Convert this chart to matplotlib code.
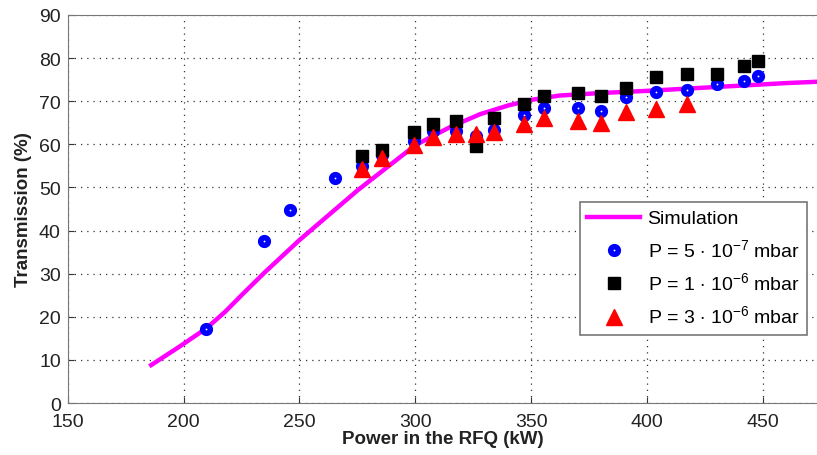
import matplotlib.pyplot as plt
import numpy as np

plt.rcParams['font.family'] = ['Liberation Sans', 'DejaVu Sans']
plt.rcParams['mathtext.fontset'] = 'custom'
plt.rcParams['mathtext.rm'] = 'Liberation Sans'

# simulation curve
sim_p = [186, 198, 210, 218, 225, 235, 250, 275, 300, 315, 328, 340, 350, 362, 380, 400, 420, 440, 460, 473]
sim_t = [8.8, 13.0, 17.4, 21.2, 25.0, 30.3, 37.8, 49.3, 59.8, 64.0, 67.0, 69.0, 70.3, 71.3, 71.9, 72.4, 73.0, 73.6, 74.2, 74.5]

# P = 5e-7 mbar
p1 = [209.5, 234.8, 245.9, 265.2, 276.8, 285.5, 299.5, 307.7, 317.6, 326.0, 334.0, 347.0,
      355.6, 370.0, 380.1, 390.9, 403.8, 417.0, 430.0, 441.9, 447.9]
t1 = [17.2, 37.6, 44.8, 52.3, 55.0, 57.5, 60.7, 63.2, 63.2, 62.0, 63.4, 66.7,
      68.4, 68.4, 67.8, 70.9, 72.2, 72.7, 74.0, 74.6, 75.9]

# P = 1e-6 mbar
p2 = [276.8, 285.6, 299.5, 307.7, 317.6, 326.0, 334.0, 346.9, 355.6, 370.0, 380.1, 390.9,
      403.8, 417.0, 430.0, 441.9, 447.9]
t2 = [57.4, 58.6, 62.9, 64.8, 65.5, 59.7, 66.1, 69.4, 71.2, 71.9, 71.3, 73.1,
      75.5, 76.2, 76.2, 78.1, 79.4]

# P = 3e-6 mbar
p3 = [276.8, 285.6, 299.5, 307.7, 317.6, 326.0, 334.0, 346.9, 355.6, 370.0, 380.1, 390.9,
      403.8, 417.0]
t3 = [54.3, 56.8, 59.9, 61.7, 62.4, 62.4, 62.8, 64.7, 66.0, 65.3, 65.0, 67.6,
      68.2, 69.4]

fig = plt.figure(figsize=(8.17, 4.56), dpi=100)
ax = fig.add_axes([0.0829, 0.114, 0.9171, 0.851])

ax.plot(sim_p, sim_t, color='#ff00ff', lw=3.2, label='Simulation', zorder=2)
ax.plot(p1, t1, 'o', color='blue', mfc='white', mec='blue', ms=5.5, mew=4,
        label=r'P = 5 $\cdot$ 10$^{-7}$ mbar', zorder=3)
ax.plot(p2, t2, 's', color='black', ms=9, label=r'P = 1 $\cdot$ 10$^{-6}$ mbar', zorder=4)
ax.plot(p3, t3, '^', color='red', ms=11, label=r'P = 3 $\cdot$ 10$^{-6}$ mbar', zorder=5)

ax.set_xlim(150, 473.3)
ax.set_ylim(0, 90)
ax.set_xticks(np.arange(150, 451, 50))
ax.set_yticks(np.arange(0, 91, 10))
ax.grid(True, linestyle=(0, (1, 4)), color='#333333', lw=0.9)
ax.tick_params(direction='in', length=4, labelsize=14, colors='#333333', labelcolor='#222222')
ax.tick_params(axis='x', pad=7)
ax.tick_params(axis='y', pad=5)
for s in ['left', 'bottom', 'top']:
    ax.spines[s].set_color('#777777')
ax.spines['right'].set_visible(False)

ax.set_xlabel('Power in the RFQ (kW)', fontsize=13.5, fontweight='bold', labelpad=0, color='#222222')
ax.set_ylabel('Transmission (%)', fontsize=13.5, fontweight='bold', labelpad=5, color='#222222')

leg = ax.legend(loc='lower right', bbox_to_anchor=(1.0, 0.15), fontsize=14,
                fancybox=False, framealpha=1, edgecolor='#777777', handlelength=2.7,
                borderpad=0.4, labelspacing=0.55, handletextpad=0.4)
leg.get_frame().set_linewidth(1.2)

fig.savefig('out.png', dpi=100)
